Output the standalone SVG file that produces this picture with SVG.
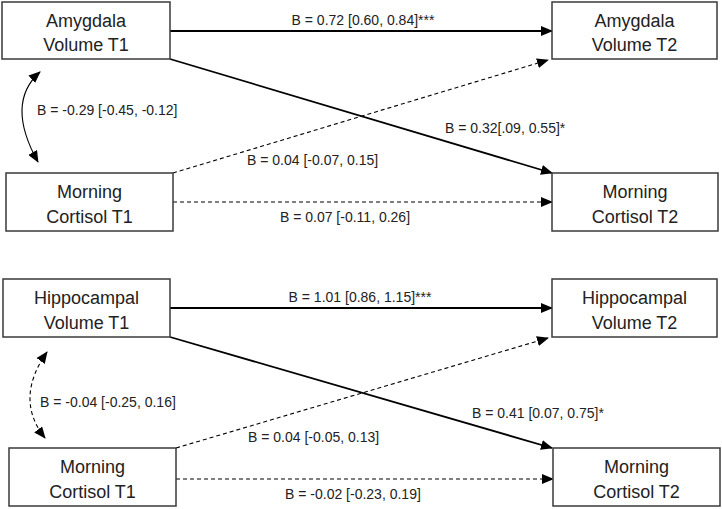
<svg xmlns="http://www.w3.org/2000/svg" width="722" height="509" viewBox="0 0 722 509">
<defs>
<marker id="ah" markerUnits="userSpaceOnUse" markerWidth="12" markerHeight="10" refX="11" refY="5" orient="auto-start-reverse" viewBox="0 0 12 10">
<path d="M0,0 L12,5 L0,10 Z" fill="#000"/>
</marker>
<style>
.box{fill:#fff;stroke:#3a3a3a;stroke-width:1.5}
.nt{font-family:"Liberation Sans",Arial,sans-serif;font-size:18px;fill:#222;text-anchor:middle}
.lb{font-family:"Liberation Sans",Arial,sans-serif;font-size:14px;fill:#222}
.solid{fill:none;stroke:#000;stroke-width:1.8}
.dash{fill:none;stroke:#000;stroke-width:1.1;stroke-dasharray:4 3}
</style>
</defs>
<rect width="722" height="509" fill="#fff"/>
<g id="connectors">
<line class="solid" x1="170" y1="31" x2="552" y2="31" marker-end="url(#ah)"/>
<line class="solid" x1="170" y1="59" x2="552" y2="173" marker-end="url(#ah)"/>
<line class="dash" x1="173" y1="173" x2="548" y2="60" marker-end="url(#ah)"/>
<line class="dash" x1="173" y1="202" x2="552" y2="202" marker-end="url(#ah)"/>
<path class="solid" style="stroke-width:1.1" d="M40,72 Q5,103 38,162" marker-start="url(#ah)" marker-end="url(#ah)"/>
<line class="solid" x1="170" y1="308" x2="552" y2="308" marker-end="url(#ah)"/>
<line class="solid" x1="170" y1="337" x2="552" y2="448" marker-end="url(#ah)"/>
<line class="dash" x1="176" y1="448" x2="548" y2="338" marker-end="url(#ah)"/>
<line class="dash" x1="176" y1="479" x2="553" y2="479" marker-end="url(#ah)"/>
<path class="dash" d="M47,352 Q14,399 45,438" marker-start="url(#ah)" marker-end="url(#ah)"/>
<text class="lb" x="363" y="25" text-anchor="middle">B = 0.72 [0.60, 0.84]***</text>
<text class="lb" x="445" y="133">B = 0.32[.09, 0.55]*</text>
<text class="lb" x="247" y="165">B = 0.04 [-0.07, 0.15]</text>
<text class="lb" x="345" y="222" text-anchor="middle">B = 0.07 [-0.11, 0.26]</text>
<text class="lb" x="37" y="115">B = -0.29 [-0.45, -0.12]</text>
<text class="lb" x="360" y="302" text-anchor="middle">B = 1.01 [0.86, 1.15]***</text>
<text class="lb" x="472" y="418">B = 0.41 [0.07, 0.75]*</text>
<text class="lb" x="248" y="442">B = 0.04 [-0.05, 0.13]</text>
<text class="lb" x="285" y="499">B = -0.02 [-0.23, 0.19]</text>
<text class="lb" x="40" y="407">B = -0.04 [-0.25, 0.16]</text>
</g>
<g id="amyg_t1"><rect class="box" x="2" y="2" width="168" height="57"/><text class="nt" x="86" y="27">Amygdala</text><text class="nt" x="86" y="51">Volume T1</text></g>
<g id="amyg_t2"><rect class="box" x="552" y="2" width="165" height="57"/><text class="nt" x="634.5" y="27">Amygdala</text><text class="nt" x="634.5" y="51">Volume T2</text></g>
<g id="cort_t1_a"><rect class="box" x="6" y="173" width="167" height="58"/><text class="nt" x="89.5" y="198">Morning</text><text class="nt" x="89.5" y="223">Cortisol T1</text></g>
<g id="cort_t2_a"><rect class="box" x="552" y="173" width="166" height="58"/><text class="nt" x="635" y="198">Morning</text><text class="nt" x="635" y="223">Cortisol T2</text></g>
<g id="hipp_t1"><rect class="box" x="3" y="279" width="167" height="58"/><text class="nt" x="86.5" y="304">Hippocampal</text><text class="nt" x="86.5" y="329">Volume T1</text></g>
<g id="hipp_t2"><rect class="box" x="552" y="279" width="165" height="58"/><text class="nt" x="634.5" y="304">Hippocampal</text><text class="nt" x="634.5" y="329">Volume T2</text></g>
<g id="cort_t1_b"><rect class="box" x="9" y="448" width="167" height="58"/><text class="nt" x="92.5" y="473">Morning</text><text class="nt" x="92.5" y="498">Cortisol T1</text></g>
<g id="cort_t2_b"><rect class="box" x="553" y="448" width="167" height="58"/><text class="nt" x="636.5" y="473">Morning</text><text class="nt" x="636.5" y="498">Cortisol T2</text></g>
</svg>
